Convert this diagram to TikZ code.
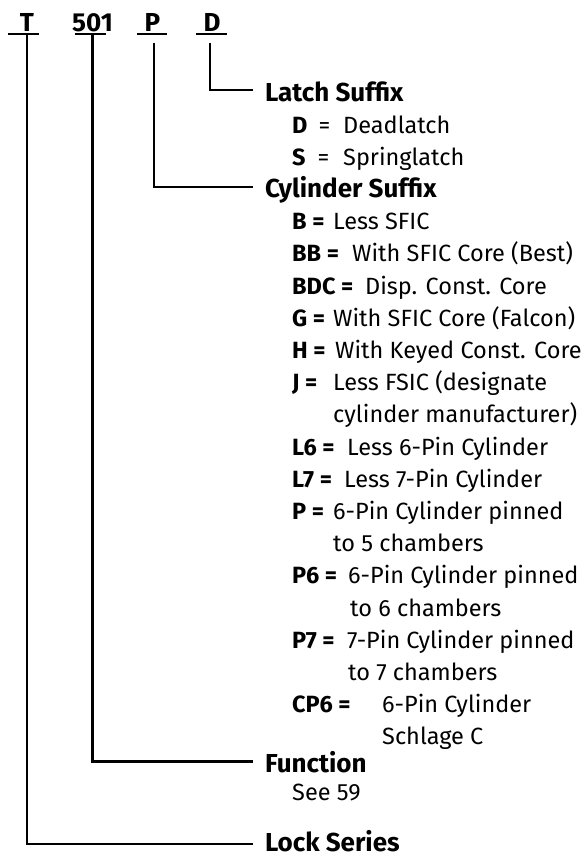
\documentclass[tikz,border=0pt]{standalone}
\usepackage{fontspec}
\setmainfont{Fira Sans}
\begin{document}
\begin{tikzpicture}[x=1pt,y=1pt,
  code/.style={font=\fontsize{26}{30}\selectfont\bfseries, inner sep=0pt, anchor=base},
  head/.style={font=\fontsize{26}{30}\selectfont\bfseries, inner sep=0pt, outer xsep=12pt, outer ysep=0pt, anchor=base west},
  key/.style={font=\fontsize{23.5}{28}\selectfont\bfseries, inner sep=0pt, anchor=base west},
  val/.style={font=\fontsize{23.5}{28}\selectfont, inner sep=0pt, anchor=base west},
  conn/.style={line width=2.4pt},
  uline/.style={line width=1.8pt}]
\useasboundingbox (0,0) rectangle (585,-857);
% codes
\node[code] (cT) at (27,-31) {T};
\node[code] (c501) at (92.5,-31) {501};
\node[code] (cP) at (152.5,-31) {P};
\node[code] (cD) at (212,-31) {D};
\draw[uline] ([xshift=-19pt,yshift=-2.5pt]cT.south) -- ++(31,0);
\draw[uline] ([xshift=-17.5pt,yshift=-2.5pt]c501.south) -- ++(31,0);
\draw[uline] ([xshift=-15.5pt,yshift=-2.5pt]cP.south) -- ++(30,0);
\draw[uline] ([xshift=-16pt,yshift=-2.5pt]cD.south) -- ++(31,0);
% headings
\node[head] (hLatch) at (253,-101) {Latch Suffix};
\node[head] (hCyl) at (253,-197.4) {Cylinder Suffix};
\node[head] (hFunc) at (253,-772) {Function};
\node[head] (hLock) at (253,-851) {Lock Series};
% connectors
\draw[conn] ([yshift=-12pt]cD.south -| 210,0) |- ([yshift=11pt]hLatch.base west);
\draw[conn] ([yshift=-12pt]cP.south -| 154,0) |- ([yshift=10.5pt]hCyl.base west);
\draw[conn] ([yshift=-2pt]c501.south) |- ([yshift=10.5pt]hFunc.base west);
\draw[conn] ([yshift=-2pt]cT.south) |- ([yshift=7pt]hLock.base west);
% latch items
\node[val] (kD) at (292,-133) {\textbf{D}\hspace{11pt}=};
\node[val] (vD) at (343,-133) {Deadlatch};
\node[val] (kS) at (292,-165.2) {\textbf{S}\hspace{12pt}=};
\node[val] (vS) at (343,-165.2) {Springlatch};
% cylinder items
\node[key] (kB) at (292,-229.6) {B =};
\node[val] (vB) at (333,-229.6) {Less SFIC};
\node[key] (kBB) at (292,-261.8) {BB =};
\node[val] (vBB) at (352,-261.8) {With SFIC Core (Best)};
\node[key] (kBDC) at (292,-294) {BDC =};
\node[val] (vBDC) at (365,-294) {Disp. Const. Core};
\node[key] (kG) at (292,-326.2) {G =};
\node[val] (vG) at (333,-326.2) {With SFIC Core (Falcon)};
\node[key] (kH) at (292,-358.4) {H =};
\node[val] (vH) at (335,-358.4) {With Keyed Const. Core};
\node[key] (kJ) at (292,-390.6) {J =};
\node[val] (vJ) at (333,-390.6) {Less FSIC (designate};
\node[val] (vJ2) at (333,-422.8) {cylinder manufacturer)};
\node[key] (kL6) at (292,-455) {L6 =};
\node[val] (vL6) at (347,-455) {Less 6-Pin Cylinder};
\node[key] (kL7) at (292,-487.2) {L7 =};
\node[val] (vL7) at (344,-487.2) {Less 7-Pin Cylinder};
\node[key] (kP) at (292,-519.4) {P =};
\node[val] (vP) at (333,-519.4) {6-Pin Cylinder pinned};
\node[val] (vP2) at (333,-551.6) {to 5 chambers};
\node[key] (kP6) at (292,-583.8) {P6 =};
\node[val] (vP6) at (348,-583.8) {6-Pin Cylinder pinned};
\node[val] (vP62) at (350,-616) {to 6 chambers};
\node[key] (kP7) at (292,-648.2) {P7 =};
\node[val] (vP7) at (347,-648.2) {7-Pin Cylinder pinned};
\node[val] (vP72) at (348,-680.4) {to 7 chambers};
\node[key] (kCP6) at (292,-712.6) {CP6 =};
\node[val] (vCP6) at (382,-712.6) {6-Pin Cylinder};
\node[val] (vCP62) at (382,-744.8) {Schlage C};
% function
\node[val] (vFunc) at (292,-800) {See 59};
\end{tikzpicture}
\end{document}
